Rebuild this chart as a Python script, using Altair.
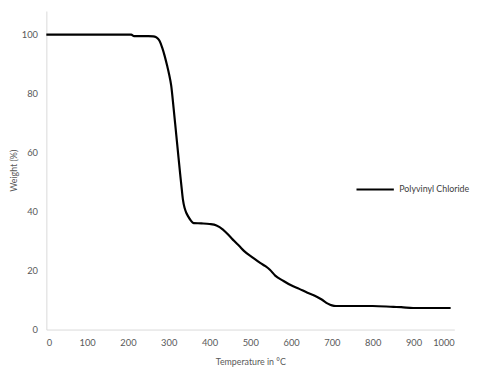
import altair as alt
import pandas as pd

temperature = [0, 100, 200, 208, 215, 250, 262, 268, 273, 278, 284, 290, 296, 301, 306, 312, 316, 320, 324, 328, 332,
               335, 339, 343, 348, 354, 361, 380, 400, 417, 433, 449, 460, 473, 485, 505, 525, 537, 548,
               561, 580, 600, 620, 640, 658, 675, 690, 700, 710, 740, 770, 800, 851, 870, 899, 950, 991]
weight = [100, 100, 100, 100, 99.5, 99.5, 99.4, 99.2, 98.7, 97.8, 95.6, 92.8, 89.5, 86.5, 82.8, 75, 69.5, 63.9, 58.3, 52.8, 47.5,
          43.9, 41.2, 39.6, 38.3, 37.0, 36.1, 36.0, 35.8, 35.3, 33.9, 31.7, 30.1, 28.3, 26.6, 24.5, 22.5, 21.5, 20.3,
          18.3, 16.6, 15, 13.8, 12.5, 11.5, 10.2, 8.8, 8.2, 8, 8, 8, 8, 7.7, 7.6, 7.3, 7.3, 7.3]
series_name = "Polyvinyl Chloride"
x_ticks = [0, 100, 200, 300, 400, 500, 600, 700, 800, 900, 1000]
y_ticks = [0, 20, 40, 60, 80, 100]

df = pd.DataFrame({"Temperature": temperature, "Weight": weight, "series": series_name})

FONT = "Lato"

chart = alt.Chart(df).mark_line(strokeWidth=2.2, interpolate="monotone").encode(
    x=alt.X("Temperature:Q",
            scale=alt.Scale(domain=[0, 1000], nice=False, zero=False),
            axis=alt.Axis(values=x_ticks, format="d", title="Temperature in °C", grid=False, ticks=False, tickSize=0,
                          domainColor="#d9d9d9", labelColor="#595959", labelFont=FONT, labelFontSize=9.5,
                          labelPadding=8, titleFont=FONT, titleFontSize=9, titleFontWeight="normal",
                          titleColor="#595959", titleY=33, titleBaseline="middle")),
    y=alt.Y("Weight:Q",
            scale=alt.Scale(domain=[0, 108], nice=False),
            axis=alt.Axis(values=y_ticks, format="d", title="Weight (%)", grid=False, ticks=False, tickSize=0,
                          domainColor="#d9d9d9", labelColor="#595959", labelFont=FONT, labelFontSize=9.5,
                          labelPadding=9, titleFont=FONT, titleFontSize=9, titleFontWeight="normal",
                          titleColor="#595959", titleX=-33, titleBaseline="middle")),
    color=alt.Color("series:N",
                    scale=alt.Scale(range=["black"]),
                    legend=alt.Legend(orient="none", legendX=314, legendY=161, title=None,
                                      symbolType="stroke", symbolSize=1444, symbolStrokeWidth=2.2,
                                      labelFont=FONT, labelFontSize=9, labelColor="#404040", labelOffset=4)),
).properties(
    width=415, height=324,
    autosize=alt.AutoSizeParams(type="none"),
    padding={"left": 39, "top": 0, "right": 18, "bottom": 37},
    background="white",
).configure_view(stroke=None)

chart.save("out.html", embed_options={"renderer": "svg", "actions": False})
